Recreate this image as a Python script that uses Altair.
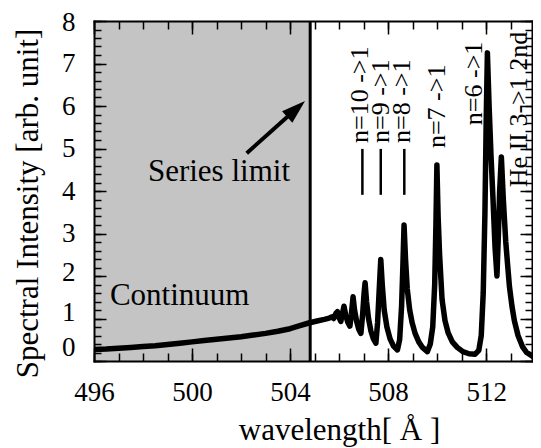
import altair as alt
import pandas as pd

# ---------------- data ----------------
wavelength = [
    496.0, 496.5, 497.0, 497.5, 498.0, 498.5, 499.0, 499.5, 500.0, 500.5,
    501.0, 501.5, 502.0, 502.5, 503.0, 503.5, 504.0, 504.4, 504.8, 505.1,
    505.4, 505.6, 505.72, 505.78, 505.87, 505.93, 506.0, 506.07, 506.13, 506.20,
    506.27, 506.35, 506.44, 506.50, 506.57, 506.63, 506.72, 506.80, 506.89, 506.96,
    507.02, 507.06, 507.12, 507.20, 507.30, 507.40, 507.50, 507.57, 507.63, 507.70,
    507.76, 507.84, 507.95, 508.08, 508.22, 508.38, 508.47, 508.55, 508.60, 508.65,
    508.71, 508.78, 508.88, 508.98, 509.10, 509.25, 509.40, 509.60, 509.72, 509.82,
    509.90, 509.95, 509.99, 510.04, 510.10, 510.20, 510.32, 510.45, 510.62, 510.82,
    511.05, 511.30, 511.55, 511.70, 511.80, 511.88, 511.95, 512.00, 512.05, 512.12,
    512.20, 512.28, 512.36, 512.44, 512.50, 512.55, 512.62, 512.70, 512.80, 512.87,
    512.95, 513.05, 513.15, 513.30, 513.48, 513.65, 513.90, 514.20,
]
intensity = [
    0.27, 0.28, 0.30, 0.32, 0.34, 0.36, 0.39, 0.42, 0.45, 0.48,
    0.51, 0.54, 0.57, 0.61, 0.65, 0.70, 0.76, 0.83, 0.90, 0.94,
    0.98, 1.01, 1.04, 1.00, 1.12, 1.16, 1.02, 0.93, 1.10, 1.29,
    1.08, 0.92, 0.82, 1.10, 1.51, 1.20, 0.92, 0.75, 0.65, 1.10,
    1.60, 1.84, 1.40, 1.00, 0.70, 0.52, 0.42, 0.90, 1.60, 2.39,
    1.80, 1.20, 0.80, 0.52, 0.35, 0.26, 0.50, 1.30, 2.20, 3.20,
    2.40, 1.70, 1.20, 0.90, 0.65, 0.45, 0.32, 0.22, 0.40, 0.80,
    1.80, 3.20, 4.61, 3.40, 2.50, 1.45, 0.95, 0.66, 0.45, 0.32,
    0.22, 0.17, 0.16, 0.25, 0.60, 1.60, 3.50, 5.60, 7.25, 6.00,
    4.80, 3.80, 2.70, 2.00, 3.00, 4.00, 4.80, 3.80, 2.80, 2.30,
    1.75, 1.30, 0.95, 0.60, 0.34, 0.20, 0.11, 0.08,
]

x_domain = [496.0, 513.87]
y_domain = [0.0, 8.0]
x_label_values = [496, 500, 504, 508, 512]
y_label_values = [0, 1, 2, 3, 4, 5, 6, 7, 8]
x_minor_values = list(range(496, 514))
y_minor_values = [round(0.2 * i, 1) for i in range(41)]

shade_start = [496.0]
shade_end = [504.82]
series_limit = [504.82]

note_text = ["Continuum", "Series limit"]
note_x = [496.65, 498.2]
note_y = [1.32, 4.24]

line_names = ["n=10 ->1", "n=9 ->1", "n=8 ->1", "n=7 ->1", "n=6 ->1", "He II 3->1 2nd"]
line_text_x = [506.85, 507.71, 508.57, 510.0, 511.51, 513.34]
line_text_y = [5.13, 5.13, 5.13, 5.01, 5.55, 4.09]

marker_x = [506.95, 507.70, 508.66]
marker_y0 = [3.91, 3.91, 3.91]
marker_y1 = [4.99, 4.99, 4.99]

arrow_tail = [502.23, 4.89]
arrow_base = [504.19, 5.90]
arrow_tip = [504.61, 6.12]

# ---------------- chart ----------------
FONT = "'Liberation Serif', 'Times New Roman', Times, 'DejaVu Serif', serif"
W, H = 438, 340

xs = alt.Scale(domain=x_domain, nice=False, zero=False)
ys = alt.Scale(domain=y_domain, nice=False, zero=False)


def tick_axis(orient, offset, values, size, domain=False):
    return alt.Axis(orient=orient, offset=offset, values=values, labels=False,
                    ticks=True, tickSize=size, tickColor="black", tickWidth=1.5,
                    domain=domain, domainColor="black", domainWidth=2,
                    domainCap="square", grid=False, title=None, zindex=2)


x_label_axis = alt.Axis(orient="bottom", values=x_label_values, ticks=False, tickSize=0,
                        labelFont=FONT, labelFontSize=27, labelColor="black",
                        labelPadding=18, labelFlush=False, domain=True,
                        domainColor="black", domainWidth=2, domainCap="square",
                        grid=False, title="wavelength[ Å ]", titleFont=FONT,
                        titleFontSize=31, titleFontWeight="normal", titleColor="black",
                        titleX=245, titleY=78, titleBaseline="alphabetic",
                        titleAlign="center", zindex=2)
y_label_axis = alt.Axis(orient="left", values=y_label_values, ticks=False, tickSize=0,
                        labelFont=FONT, labelFontSize=27, labelColor="black",
                        labelPadding=19, labelFlush=False, domain=True,
                        domainColor="black", domainWidth=2, domainCap="square",
                        labelOffset={"expr": "datum.value == 0 ? -14 : datum.value == 1 ? -6 : datum.value == 2 ? -4 : datum.value == 8 ? 1 : 0"},
                        grid=False, title="Spectral Intensity [arb. unit]", titleFont=FONT,
                        titleFontSize=31, titleFontWeight="normal", titleColor="black",
                        titleX=-57, titleY=182, titleAngle=270, titleBaseline="alphabetic",
                        titleAlign="center", zindex=2)

shade_df = pd.DataFrame({"x0": shade_start, "x1": shade_end,
                         "y0": [y_domain[0]], "y1": [y_domain[1]]})
shade = alt.Chart(shade_df).mark_rect(color="#c4c4c4", opacity=1).encode(
    x=alt.X("x0:Q", scale=xs, axis=x_label_axis),
    x2="x1:Q",
    y=alt.Y("y0:Q", scale=ys, axis=y_label_axis),
    y2="y1:Q",
)

curve_df = pd.DataFrame({"wavelength": wavelength, "intensity": intensity})
curve = alt.Chart(curve_df).mark_line(color="black", strokeWidth=5.5, strokeJoin="round",
                                      clip=True).encode(
    x=alt.X("wavelength:Q", scale=xs, axis=tick_axis("top", -H, x_minor_values, 8)),
    y=alt.Y("intensity:Q", scale=ys, axis=tick_axis("right", -W, y_minor_values, 7)),
    order=alt.Order("wavelength:Q"),
)

limit_df = pd.DataFrame({"x": series_limit, "y0": [y_domain[0]], "y1": [y_domain[1]]})
limit = alt.Chart(limit_df).mark_rule(color="black", strokeWidth=3).encode(
    x=alt.X("x:Q", scale=xs, axis=tick_axis("top", -H, x_label_values, 13)),
    y=alt.Y("y0:Q", scale=ys, axis=tick_axis("right", -W, y_label_values, 12)),
    y2="y1:Q",
)

marker_df = pd.DataFrame({"x": marker_x, "y0": marker_y0, "y1": marker_y1})
markers = alt.Chart(marker_df).mark_rule(color="black", strokeWidth=2.5).encode(
    x=alt.X("x:Q", scale=xs, axis=tick_axis("bottom", -H, x_minor_values, 8, domain=True)),
    y=alt.Y("y0:Q", scale=ys, axis=tick_axis("left", -W, y_minor_values, 7, domain=True)),
    y2="y1:Q",
)

arrow_df = pd.DataFrame({"x0": [arrow_tail[0]], "y0": [arrow_tail[1]],
                         "x1": [arrow_base[0]], "y1": [arrow_base[1]]})
arrow_line = alt.Chart(arrow_df).mark_rule(color="black", strokeWidth=4).encode(
    x=alt.X("x0:Q", scale=xs, axis=tick_axis("bottom", -H, x_label_values, 13)),
    y=alt.Y("y0:Q", scale=ys, axis=tick_axis("left", -W, y_label_values, 12)),
    x2="x1:Q",
    y2="y1:Q",
)

tip_df = pd.DataFrame({"x": [arrow_tip[0]], "y": [arrow_tip[1]]})
arrow_head = alt.Chart(tip_df).mark_point(
    shape="M0,0L-0.32,1L0.32,1Z", filled=True, size=2304, angle=48,
    color="black", opacity=1, strokeWidth=0,
).encode(
    x=alt.X("x:Q", scale=xs, axis=None),
    y=alt.Y("y:Q", scale=ys, axis=None),
)

note_df = pd.DataFrame({"t": note_text, "x": note_x, "y": note_y})
notes = alt.Chart(note_df).mark_text(font=FONT, fontSize=31, color="black",
                                     align="left", baseline="alphabetic").encode(
    x=alt.X("x:Q", scale=xs, axis=None),
    y=alt.Y("y:Q", scale=ys, axis=None),
    text="t:N",
)

lab_df = pd.DataFrame({"t": line_names, "x": line_text_x, "y": line_text_y})
line_labels = alt.Chart(lab_df).mark_text(font=FONT, fontSize=26, color="black",
                                          align="left", baseline="middle",
                                          angle=270).encode(
    x=alt.X("x:Q", scale=xs, axis=None),
    y=alt.Y("y:Q", scale=ys, axis=None),
    text="t:N",
)

chart = alt.layer(
    shade, curve, limit, markers, arrow_line, arrow_head, notes, line_labels
).resolve_axis(
    x="independent", y="independent"
).properties(
    width=W, height=H,
    autosize=alt.AutoSizeParams(type="none"),
    padding={"left": 86, "top": 13, "right": 1, "bottom": 87},
    background="white",
).configure_view(stroke="transparent")

chart.save("out.html", embed_options={"renderer": "svg", "actions": False})
